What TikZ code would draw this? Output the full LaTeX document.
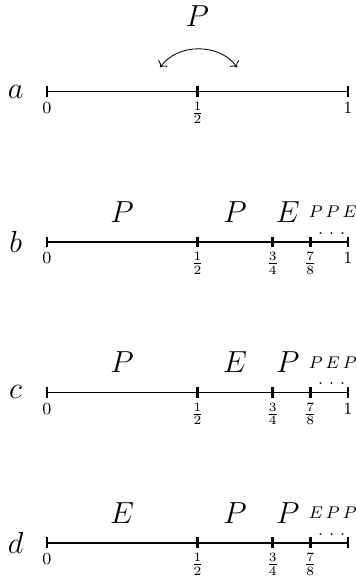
\documentclass[tikz,border=0pt]{standalone}
\usepackage{amsmath}
\usetikzlibrary{arrows.meta}

\tikzset{
  numline/.style={semithick},
  endtick/.style={semithick},
  midtick/.style={very thick},
  ticklbl/.style={font=\footnotesize, anchor=north, inner sep=2.3pt},
  rowlbl/.style={font=\Large, inner sep=0pt},
  move/.style={font=\Large, inner sep=0pt},
  tailword/.style={font=\footnotesize, inner sep=0pt},
  taildots/.style={font=\footnotesize, anchor=base, inner sep=0pt},
}

\begin{document}
\begin{tikzpicture}
  \useasboundingbox (-0.78,1.52) rectangle (5.13,-8.15);

  % row a: one swap around the midpoint
  \node[rowlbl] (lbl-a) at (-0.52,0) {$a$};
  \draw[numline] (0,0) -- (5,0);
  \draw[endtick] (0,-0.09) -- (0,0.09);
  \draw[endtick] (5,-0.09) -- (5,0.09);
  \draw[midtick] (2.5,-0.09) -- (2.5,0.09);
  \node[ticklbl] (zero-a) at (0,-0.09) {$0$};
  \node[ticklbl] (half-a) at (2.5,-0.09) {$\frac{1}{2}$};
  \node[ticklbl] (one-a) at (5,-0.09) {$1$};
  \node[move] (move-a) at (2.5,1.25) {$P$};
  \coordinate (swapL) at (1.88,0.4);
  \coordinate (swapR) at (3.16,0.4);
  \draw[<->] (swapL) to[bend left=55] (swapR);

  % rows b, c, d
  \foreach \row/\yy/\fst/\snd/\thd/\tail in
      {b/-2.5/P/P/E/{P\,P\,E}, c/-5/P/E/P/{P\,E\,P}, d/-7.5/E/P/P/{E\,P\,P}}{
    \node[rowlbl] (lbl-\row) at (-0.52,\yy) {$\row$};
    \draw[numline] (0,\yy) -- (5,\yy);
    \draw[endtick] (0,\yy-0.09) -- (0,\yy+0.09);
    \draw[endtick] (5,\yy-0.09) -- (5,\yy+0.09);
    \foreach \xx in {2.5,3.75,4.375}
      \draw[midtick] (\xx,\yy-0.09) -- (\xx,\yy+0.09);
    \node[ticklbl] (zero-\row) at (0,\yy-0.09) {$0$};
    \node[ticklbl] (half-\row) at (2.5,\yy-0.09) {$\frac{1}{2}$};
    \node[ticklbl] (qtr-\row) at (3.75,\yy-0.09) {$\frac{3}{4}$};
    \node[ticklbl] (eighth-\row) at (4.375,\yy-0.09) {$\frac{7}{8}$};
    \node[move] (fst-\row) at (1.25,\yy+0.5) {$\fst$};
    \node[move] (snd-\row) at (3.125,\yy+0.5) {$\snd$};
    \node[move] (thd-\row) at (4.0,\yy+0.5) {$\thd$};
    \node[tailword] (tail-\row) at (4.75,\yy+0.5) {$\tail$};
    \node[taildots] (dots-\row) at (4.73,\yy+0.13) {.\ .\ .};
  }
  \node[ticklbl] (one-b) at (5,-2.59) {$1$};
  \node[ticklbl] (one-c) at (5,-5.09) {$1$};
\end{tikzpicture}
\end{document}
